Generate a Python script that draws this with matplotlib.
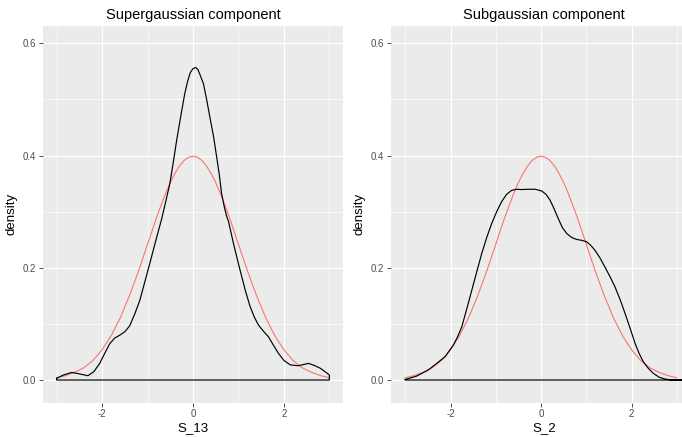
import matplotlib
matplotlib.use("Agg")
import matplotlib.pyplot as plt

plt.rcParams["font.family"] = ["Liberation Sans", "DejaVu Sans"]
plt.rcParams["axes.unicode_minus"] = False

# kernel density of S_13 (heavy-tailed component)
s13_x = [-3.00, -2.85, -2.67, -2.50, -2.31, -2.18, -2.05, -1.94, -1.83, -1.72,
         -1.61, -1.50, -1.39, -1.28, -1.17, -1.06, -0.95, -0.82, -0.69, -0.60,
         -0.51, -0.43, -0.36, -0.27, -0.18, -0.12, -0.06, 0.00, 0.06, 0.11, 0.16,
         0.23, 0.30, 0.37, 0.45, 0.52, 0.58, 0.63, 0.69, 0.74, 0.78, 0.90,
         1.035, 1.15, 1.256, 1.35, 1.44, 1.55, 1.66, 1.77, 1.88, 2.00,
         2.14, 2.32, 2.45, 2.54, 2.67, 2.80, 2.92, 3.00]
s13_y = [0.003, 0.009, 0.0135, 0.011, 0.0077, 0.015, 0.030, 0.048, 0.065, 0.075,
         0.080, 0.086, 0.097, 0.118, 0.142, 0.175, 0.208, 0.248, 0.287, 0.318,
         0.350, 0.390, 0.427, 0.470, 0.511, 0.532, 0.548, 0.555, 0.557, 0.553, 0.543,
         0.528, 0.500, 0.469, 0.435, 0.398, 0.365, 0.332, 0.308, 0.292, 0.283, 0.240,
         0.196, 0.160, 0.131, 0.112, 0.098, 0.087, 0.077, 0.062, 0.0475, 0.035,
         0.027, 0.0255, 0.028, 0.0297, 0.026, 0.021, 0.014, 0.009]

# kernel density of S_2 (light-tailed component)
s2_x = [-3.00, -2.75, -2.49, -2.30, -2.12, -1.94, -1.85, -1.75, -1.64, -1.53,
        -1.42, -1.31, -1.20, -1.09, -0.98, -0.87, -0.76, -0.65, -0.54, -0.43,
        -0.28, -0.13, 0.015, 0.11, 0.20, 0.29, 0.38, 0.47, 0.57, 0.68,
        0.79, 0.90, 1.01, 1.10, 1.19, 1.30, 1.41, 1.52, 1.635, 1.75,
        1.856, 1.97, 2.08, 2.17, 2.26, 2.37, 2.48, 2.61, 2.74, 2.85, 3.15]
s2_y = [0.001, 0.007, 0.018, 0.030, 0.0415, 0.062, 0.076, 0.095, 0.127, 0.160,
        0.193, 0.2255, 0.254, 0.279, 0.300, 0.318, 0.331, 0.338, 0.340, 0.3395,
        0.340, 0.340, 0.337, 0.331, 0.3206, 0.305, 0.288, 0.272, 0.261, 0.254,
        0.2505, 0.249, 0.2464, 0.240, 0.2315, 0.218, 0.2018, 0.185, 0.166, 0.143,
        0.119, 0.092, 0.065, 0.047, 0.0326, 0.021, 0.012, 0.005, 0.0018, 0.0005, 0.0]

# reference standard normal density
norm_x = [-3.0, -2.8, -2.6, -2.4, -2.2, -2.0, -1.8, -1.6, -1.4, -1.2, -1.1, -1.0,
          -0.9, -0.8, -0.7, -0.6, -0.5, -0.4, -0.3, -0.2, -0.1, 0.0,
          0.1, 0.2, 0.3, 0.4, 0.5, 0.6, 0.7, 0.8, 0.9, 1.0,
          1.1, 1.2, 1.4, 1.6, 1.8, 2.0, 2.2, 2.4, 2.6, 2.8, 3.0]
norm_y = [0.004, 0.008, 0.014, 0.022, 0.035, 0.054, 0.079, 0.111, 0.150, 0.194, 0.218, 0.242,
          0.266, 0.290, 0.312, 0.333, 0.352, 0.368, 0.381, 0.391, 0.397, 0.399,
          0.397, 0.391, 0.381, 0.368, 0.352, 0.333, 0.312, 0.290, 0.266, 0.242,
          0.218, 0.194, 0.150, 0.111, 0.079, 0.054, 0.035, 0.022, 0.014, 0.008, 0.004]

panels = [
    ("Supergaussian component", "S_13", s13_x, s13_y),
    ("Subgaussian component", "S_2", s2_x, s2_y),
]

W, H = 682, 437
fig = plt.figure(figsize=(W / 100, H / 100), dpi=100)
fig.patch.set_facecolor("white")

# axes boxes in pixels: left, right, xlim
boxes = [
    (43, 343, (-3.3, 3.3)),
    (391, 697, (-3.315, 3.447)),
]
top_px, bot_px = 26, 402.7

for (title, xlab, dx, dy), (l, r, xl) in zip(panels, boxes):
    ax = fig.add_axes([l / W, (H - bot_px) / H, (r - l) / W, (bot_px - top_px) / H])
    ax.set_facecolor("#EBEBEB")
    for s in ax.spines.values():
        s.set_visible(False)
    ax.set_xlim(*xl)
    ax.set_ylim(-0.0404, 0.631)
    ax.set_xticks([-2, 0, 2])
    ax.set_xticks([-3, -1, 1, 3], minor=True)
    ax.set_yticks([0.0, 0.2, 0.4, 0.6])
    ax.set_yticks([0.1, 0.3, 0.5], minor=True)
    ax.set_yticklabels(["0.0", "0.2", "0.4", "0.6"])
    ax.grid(which="major", color="white", linewidth=0.85)
    ax.grid(which="minor", color="white", linewidth=0.45)
    ax.set_axisbelow(True)
    ax.tick_params(which="major", length=2.7, width=0.6, color="#333333",
                   labelcolor="#4D4D4D", labelsize=7, pad=2)
    ax.tick_params(which="minor", length=0)

    # density outline closed along the baseline
    px = list(dx) + [dx[-1], dx[0], dx[0]]
    py = list(dy) + [0.0, 0.0, dy[0]]
    ax.plot(norm_x, norm_y, color="#F8766D", linewidth=0.8)
    ax.plot(px, py, color="black", linewidth=0.85, solid_joinstyle="round")

    ax.set_title(title, fontsize=10.5, pad=5)
    ax.set_xlabel(xlab, fontsize=9.5, labelpad=2)
    ax.set_ylabel("density", fontsize=9.5, labelpad=4)

fig.savefig("out.png", dpi=100)
